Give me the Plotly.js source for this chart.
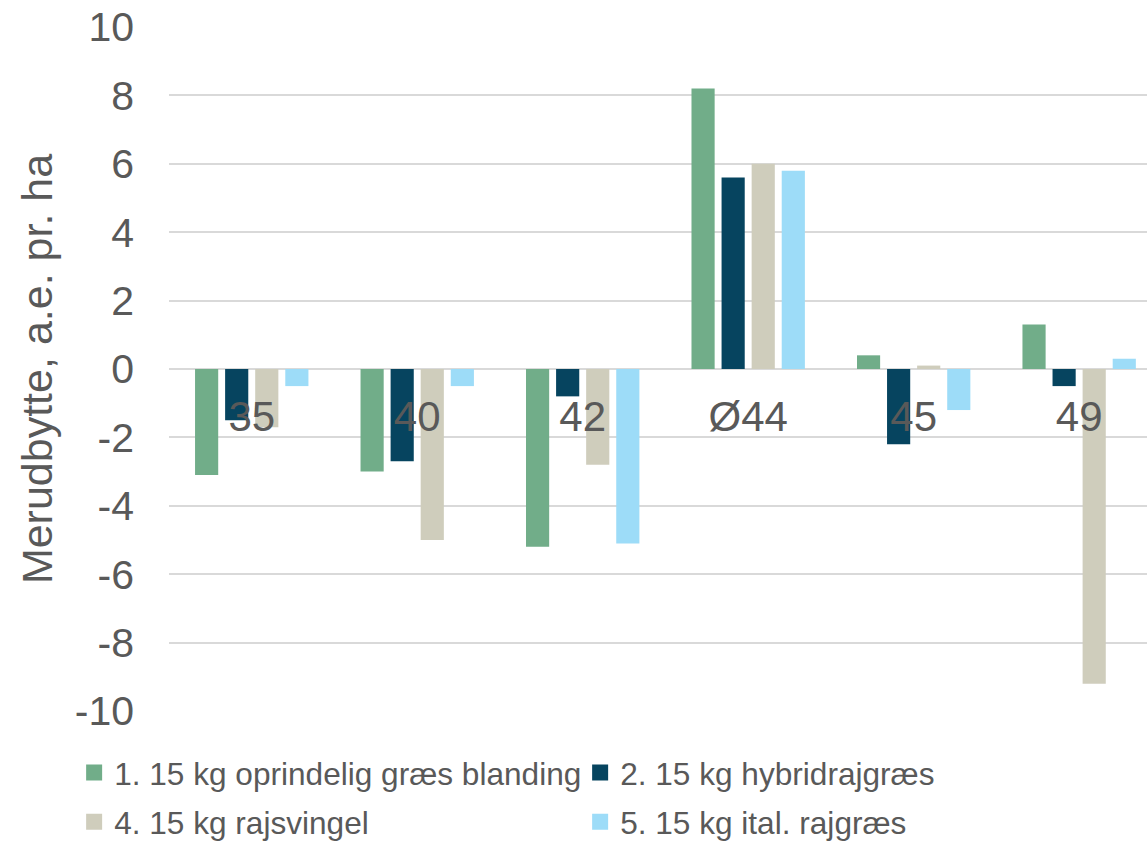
<!DOCTYPE html>
<html>
<head>
<meta charset="utf-8">
<script src="https://cdn.plot.ly/plotly-3.0.1.min.js"></script>
<style>html,body{margin:0;padding:0;background:#fff;}#chart{width:1147px;height:842px;}</style>
</head>
<body>
<div id="chart"></div>
<script>
const categories = ["35", "40", "42", "Ø44", "45", "49"];
const seriesNames = ["1. 15 kg oprindelig græs blanding", "2. 15 kg hybridrajgræs", "4. 15 kg rajsvingel", "5. 15 kg ital. rajgræs"];
const s1 = [-3.1, -3.0, -5.2, 8.2, 0.4, 1.3];
const s2 = [-1.5, -2.7, -0.8, 5.6, -2.2, -0.5];
const s4 = [-1.7, -5.0, -2.8, 6.0, 0.1, -9.2];
const s5 = [-0.5, -0.5, -5.1, 5.8, -1.2, 0.3];
const colors = ["#71AD89", "#06445F", "#CFCDBC", "#9DDCF8"];
const yTicks = [-10, -8, -6, -4, -2, 0, 2, 4, 6, 8, 10];
const legendGroups = ["legend", "legend", "legend2", "legend2"];

const allSeries = [s1, s2, s4, s5];
const traces = allSeries.map((vals, i) => ({
  type: 'bar',
  name: seriesNames[i],
  x: categories,
  y: vals,
  marker: {color: colors[i]},
  showlegend: false,
  hoverinfo: 'skip'
}));
// legend key entries (square swatches), no data points
seriesNames.forEach((nm, i) => {
  traces.push({
    type: 'scatter', mode: 'markers', name: nm,
    x: [null], y: [null],
    marker: {symbol: 'square', size: 17, color: colors[i]},
    legend: legendGroups[i],
    showlegend: true, hoverinfo: 'skip'
  });
});

const font = 'Liberation Sans, Arial, sans-serif';
const legendCommon = {
  orientation: 'h',
  xanchor: 'left', yanchor: 'middle',
  traceorder: 'normal',
  entrywidth: 461,
  font: {size: 31.6, color: '#595959', family: font},
  bgcolor: 'rgba(0,0,0,0)',
  borderwidth: 0,
  itemsizing: 'trace'
};
const layout = {
  width: 1147, height: 842,
  margin: {l: 169, r: 0, t: 27, b: 131, autoexpand: false},
  paper_bgcolor: '#ffffff', plot_bgcolor: '#ffffff',
  barmode: 'group',
  bargap: 0.273,
  bargroupgap: 0.23,
  font: {family: font, color: '#595959'},
  xaxis: {
    type: 'category',
    range: [-0.5, 5.41],
    anchor: 'free',
    position: 0.5,
    showline: false, showgrid: false, zeroline: false,
    ticks: '',
    ticklabelstandoff: 19,
    tickfont: {size: 42, color: '#595959', family: font},
    layer: 'above traces',
    fixedrange: true
  },
  yaxis: {
    range: [-10, 10],
    tickvals: yTicks,
    ticktext: yTicks.map(String),
    showgrid: true, gridcolor: '#D9D9D9', gridwidth: 2,
    zeroline: false, showline: false,
    ticks: '',
    ticklabelstandoff: 34,
    tickfont: {size: 41, color: '#595959', family: font},
    title: {text: 'Merudbytte, a.e. pr. ha', font: {size: 43, color: '#595959', family: font}, standoff: 8},
    automargin: false
  },
  showlegend: true,
  legend: Object.assign({}, legendCommon, {x: -0.097, y: -0.0906}),
  legend2: Object.assign({}, legendCommon, {x: -0.097, y: -0.1625})
};

Plotly.newPlot('chart', traces, layout, {staticPlot: true, displayModeBar: false});
</script>
</body>
</html>
